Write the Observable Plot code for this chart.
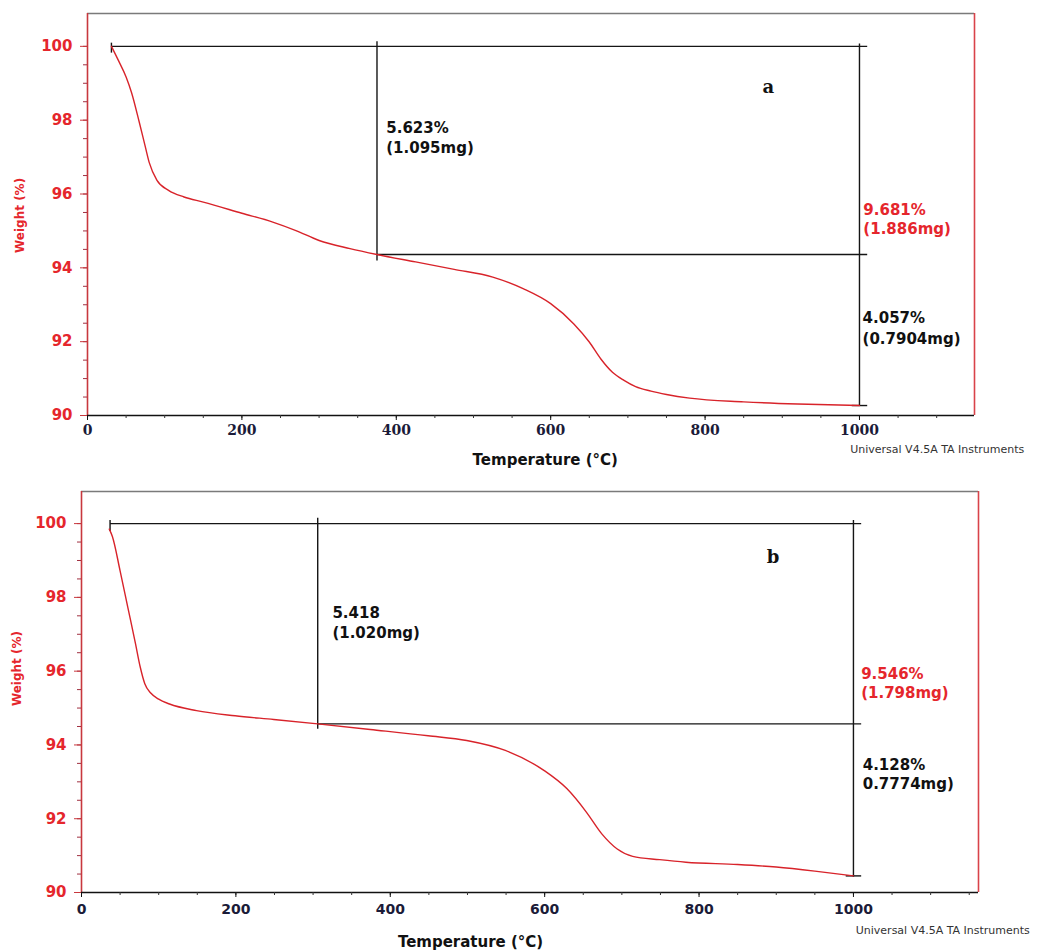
<!DOCTYPE html>
<html>
<head>
<meta charset="utf-8">
<script src="https://cdn.jsdelivr.net/npm/d3@7"></script>
<script src="https://cdn.jsdelivr.net/npm/@observablehq/plot@0.6"></script>
<style>
  body { margin: 0; background: #fff; }
  #chart svg { display: block; }
</style>
</head>
<body>
<div id="chart"></div>
<script>
// ---------- data ----------
const xTickValues = [0, 200, 400, 600, 800, 1000];
const yTickValues = [90, 92, 94, 96, 98, 100];
const xLabel = "Temperature (°C)";
const yLabel = "Weight (%)";
const instrumentText = "Universal V4.5A TA Instruments";

// panel a
const tempA = [31, 40, 50, 57, 67, 75, 80, 90, 105, 125, 150, 200, 240, 270, 300, 340, 375, 425, 475, 525, 565, 600, 630, 650, 665, 680, 695, 710, 730, 750, 780, 850, 920, 1000];
const weightA = [100, 99.62, 99.17, 98.75, 97.95, 97.27, 96.85, 96.37, 96.1, 95.92, 95.78, 95.48, 95.24, 95.01, 94.74, 94.52, 94.36, 94.16, 93.96, 93.75, 93.43, 93.03, 92.48, 91.99, 91.53, 91.17, 90.95, 90.78, 90.66, 90.57, 90.47, 90.37, 90.31, 90.27];
// step-analysis guide segments [x1, y1, x2, y2] in data units
const guidesA = [
  [31, 100, 1010, 100],
  [31, 100.1, 31, 99.83],
  [375, 100.14, 375, 94.2],
  [375, 94.36, 1010, 94.36],
  [1000, 100.08, 1000, 90.27],
  [990, 90.27, 1010, 90.27]
];
const noteTextA = ["5.623%", "(1.095mg)", "4.057%", "(0.7904mg)"];
const noteTempA = [387, 387, 1004, 1004];
const noteWeightA = [97.78, 97.24, 92.63, 92.08];
const totalTextA = ["9.681%", "(1.886mg)"];
const totalTempA = [1005, 1005];
const totalWeightA = [95.56, 95.04];

// panel b
const tempB = [36, 40, 50, 60, 70, 76, 82, 90, 100, 114, 149, 199, 249, 306, 374, 449, 499, 549, 599, 629, 654, 674, 694, 714, 749, 783, 850, 900, 950, 1000];
const weightB = [99.85, 99.65, 98.72, 97.73, 96.74, 96.12, 95.66, 95.4, 95.24, 95.11, 94.93, 94.79, 94.69, 94.57, 94.42, 94.25, 94.12, 93.85, 93.31, 92.81, 92.18, 91.59, 91.18, 90.98, 90.89, 90.82, 90.76, 90.69, 90.58, 90.45];
const guidesB = [
  [37, 100, 1010, 100],
  [37, 100.1, 37, 99.8],
  [306, 100.16, 306, 94.44],
  [306, 94.57, 1010, 94.57],
  [1000, 100.1, 1000, 90.43],
  [990, 90.45, 1010, 90.45]
];
const noteTextB = ["5.418", "(1.020mg)", "4.128%", "0.7774mg)"];
const noteTempB = [325, 325, 1012, 1012];
const noteWeightB = [97.56, 97.02, 93.44, 92.93];
const totalTextB = ["9.546%", "(1.798mg)"];
const totalTempB = [1010, 1010];
const totalWeightB = [95.93, 95.39];

// ---------- drawing ----------
const RED = "#e5262c";
const CURVE = "#d8232a";

function panel(cfg) {
  const curve = cfg.temp.map((t, i) => ({t, w: cfg.weight[i]}));
  const guides = cfg.guides.map(([x1, y1, x2, y2]) => ({x1, y1, x2, y2}));
  const notes = cfg.noteText.map((s, i) => ({s, t: cfg.noteTemp[i], w: cfg.noteWeight[i]}));
  const totals = cfg.totalText.map((s, i) => ({s, t: cfg.totalTemp[i], w: cfg.totalWeight[i]}));
  const [xmin, xmax] = cfg.xDomain;
  const [ymin, ymax] = cfg.yDomain;

  const svg = Plot.plot({
    width: 1062,
    height: cfg.height,
    marginTop: cfg.mt, marginBottom: cfg.mb, marginLeft: cfg.ml, marginRight: cfg.mr,
    x: {domain: cfg.xDomain, axis: null},
    y: {domain: cfg.yDomain, axis: null},
    style: {background: "#fff", overflow: "visible"},
    marks: [
      // frame
      Plot.ruleY([ymax], {stroke: "#7a7a7a", strokeWidth: 1.6}),
      Plot.ruleX([xmax], {stroke: "#d9434a", strokeWidth: 1.6}),
      Plot.ruleX([xmin], {stroke: "#c8383e", strokeWidth: 1.6}),
      Plot.ruleY([ymin], {stroke: "#111", strokeWidth: 1.6}),
      // axes
      Plot.axisY(d3.range(90, 100.01, 0.5), {tickSize: 4, text: null, stroke: "#a03040"}),
      Plot.axisY(yTickValues, {tickSize: 7, tickPadding: 8, stroke: "#c8383e", fill: RED,
        fontSize: 15, fontWeight: "bold", fontFamily: "DejaVu Sans", ariaLabel: "ytl",
        tickFormat: d => String(d)}),
      Plot.axisX(d3.range(0, xmax, 50), {tickSize: 3, text: null, stroke: "#333"}),
      Plot.axisX(xTickValues, {tickSize: 5, tickPadding: cfg.xPad, stroke: "#111", fill: "#1b1b38",
        fontSize: 14, fontWeight: "bold", fontFamily: cfg.xFont, ariaLabel: "xtl",
        tickFormat: d => String(d)}),
      // guides
      Plot.link(guides, {x1: "x1", y1: "y1", x2: "x2", y2: "y2", stroke: "#151515", strokeWidth: 1.4}),
      // curve
      Plot.line(curve, {x: "t", y: "w", stroke: CURVE, strokeWidth: 1.4, curve: "monotone-x"}),
      // annotations
      Plot.text(notes, {x: "t", y: "w", text: "s", textAnchor: "start", fill: "#111",
        fontSize: 15, fontWeight: "bold", fontFamily: "DejaVu Sans", ariaLabel: "note"}),
      Plot.text(totals, {x: "t", y: "w", text: "s", textAnchor: "start", fill: RED,
        fontSize: 15, fontWeight: "bold", fontFamily: "DejaVu Sans", ariaLabel: "note"}),
      Plot.text([cfg.letter], {x: cfg.letterT, y: cfg.letterW, text: d => d, fill: "#111",
        fontSize: 18, fontWeight: "bold", fontFamily: "DejaVu Serif"}),
      // axis titles
      Plot.text([xLabel], {x: cfg.xLabelT, y: ymin, dy: cfg.xLabelDy, text: d => d, fill: "#111",
        fontSize: 15, fontWeight: "bold", fontFamily: "DejaVu Sans", ariaLabel: "xlabel"}),
      Plot.text([yLabel], {frameAnchor: "left", y: cfg.yLabelW, dx: cfg.yLabelDx, rotate: -90, text: d => d,
        textAnchor: "middle", fill: RED, fontSize: 12, fontWeight: "bold", fontFamily: "DejaVu Sans"}),
      Plot.text([instrumentText], {x: cfg.instT, y: ymin, dy: cfg.instDy, text: d => d, textAnchor: "start",
        fill: "#333", fontSize: 11, fontFamily: "DejaVu Sans", ariaLabel: "inst"})
    ]
  });

  const s = d3.select(svg);
  s.selectAll('g[aria-label="note"] text').style("letter-spacing", "2.5px");
  s.selectAll('g[aria-label="ytl"] text').style("letter-spacing", "1px");
  s.selectAll('g[aria-label="xtl"] text').style("letter-spacing", "1px");
  s.selectAll('g[aria-label="xlabel"] text').style("letter-spacing", "2px");
  s.selectAll('g[aria-label="inst"] text').style("letter-spacing", "0.15px");
  return svg;
}

const root = document.getElementById("chart");
root.appendChild(panel({
  temp: tempA, weight: weightA, guides: guidesA,
  noteText: noteTextA, noteTemp: noteTempA, noteWeight: noteWeightA,
  totalText: totalTextA, totalTemp: totalTempA, totalWeight: totalWeightA,
  height: 470, mt: 13, mb: 55, ml: 87, mr: 88,
  xDomain: [0, 1149], yDomain: [90, 100.89],
  xFont: "DejaVu Serif", xPad: 5,
  letter: "a", letterT: 882, letterW: 98.89,
  xLabelT: 593, xLabelDy: 45,
  yLabelW: 95.42, yLabelDx: -67,
  instT: 988, instDy: 34
}));
root.appendChild(panel({
  temp: tempB, weight: weightB, guides: guidesB,
  noteText: noteTextB, noteTemp: noteTempB, noteWeight: noteWeightB,
  totalText: totalTextB, totalTemp: totalTempB, totalWeight: totalWeightB,
  height: 482, mt: 21, mb: 60, ml: 81, mr: 84,
  xDomain: [0, 1162], yDomain: [90, 100.87],
  xFont: "DejaVu Sans", xPad: 7,
  letter: "b", letterT: 896, letterW: 99.08,
  xLabelT: 504, xLabelDy: 50,
  yLabelW: 96.07, yLabelDx: -64,
  instT: 1003, instDy: 38
}));
</script>
</body>
</html>
